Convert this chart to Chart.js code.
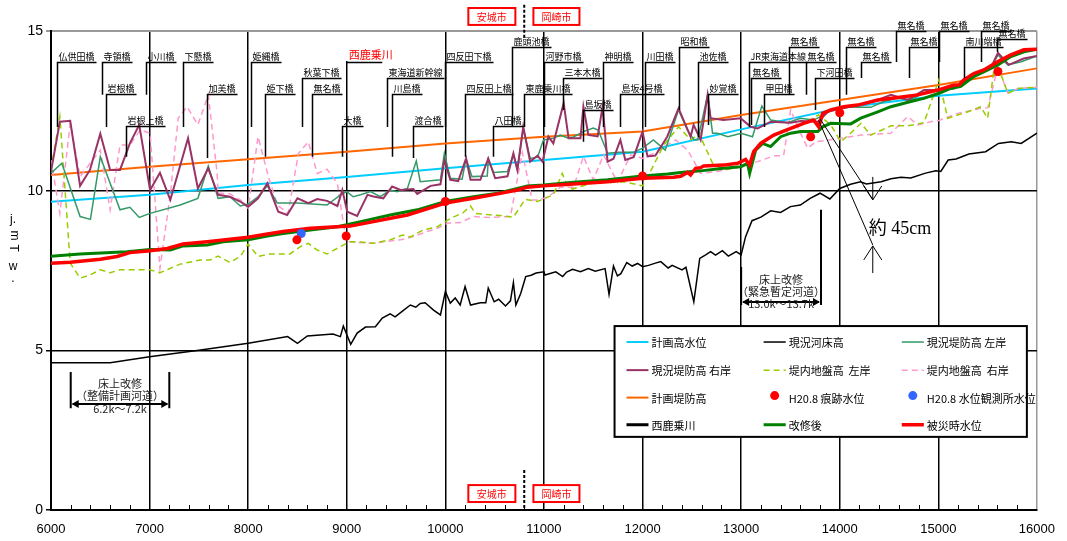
<!DOCTYPE html>
<html>
<head>
<meta charset="utf-8">
<script src="https://cdn.jsdelivr.net/npm/chart.js@4.4.1/dist/chart.umd.min.js"></script>
<style>
  body { margin: 0; background: #fff; }
  canvas { display: block; }
</style>
</head>
<body>
<canvas id="grafico" width="1067" height="541"></canvas>
<script>
const FUENTE = "'Liberation Sans', 'Noto Sans CJK JP', sans-serif";
const FUENTE_JP = "'Noto Sans CJK JP', 'Liberation Sans', sans-serif";
Chart.defaults.font.family = FUENTE;
Chart.defaults.color = '#000';

// Datos: [距離(m), 標高(T.P.m)]
const planHWL = [[6000,9.65],[7000,9.87],[8000,10.18],[9000,10.43],[10000,10.70],[11000,10.96],[12000,11.22],[13000,11.92],[14000,12.58],[15000,12.97],[16000,13.2]];

const planLevee = [[6000,10.49],[7000,10.75],[8000,10.98],[9000,11.22],[10000,11.48],[11000,11.69],[12000,11.85],[13000,12.37],[14000,12.84],[15000,13.31],[16000,13.83]];

const riverBed = [[6000,4.61],[6600,4.61],[7000,4.80],[7500,5.0],[8000,5.22],[8400,5.43],[8500,5.22],[8600,5.45],[8860,5.51],[8935,5.43],[8965,5.76],[9040,5.19],[9105,5.54],[9190,5.73],[9290,5.74],[9360,6.01],[9440,6.14],[9490,6.05],[9565,6.23],[9645,6.42],[9700,6.35],[9745,6.47],[9795,6.49],[9880,6.26],[9950,6.11],[10000,6.84],[10050,6.48],[10100,6.64],[10150,6.42],[10200,7.0],[10255,6.42],[10355,6.49],[10410,6.49],[10435,6.95],[10495,6.52],[10540,6.6],[10610,6.39],[10660,6.55],[10690,7.12],[10715,6.42],[10765,6.79],[10815,7.31],[10870,7.35],[10920,7.42],[11000,7.46],[11010,7.36],[11120,7.46],[11190,7.31],[11230,7.45],[11290,7.54],[11370,7.46],[11450,7.56],[11520,7.48],[11620,7.56],[11660,6.75],[11705,7.64],[11745,7.33],[11780,7.4],[11840,7.75],[11895,7.64],[11950,7.72],[12000,7.62],[12060,7.66],[12130,7.73],[12185,7.78],[12260,7.58],[12300,7.66],[12400,7.52],[12440,7.6],[12520,6.52],[12580,7.88],[12640,7.99],[12690,8.09],[12740,7.98],[12810,8.12],[12870,7.95],[12950,8.09],[13000,7.99],[13045,8.56],[13110,9.06],[13200,9.17],[13300,9.37],[13400,9.32],[13500,9.50],[13600,9.55],[13700,9.76],[13800,9.92],[13900,9.74],[14000,10.07],[14110,10.2],[14210,10.28],[14270,10.21],[14420,10.28],[14520,10.37],[14620,10.42],[14720,10.4],[14870,10.55],[14975,10.62],[15025,10.6],[15100,10.96],[15180,10.99],[15310,11.15],[15480,11.22],[15610,11.48],[15740,11.53],[15840,11.48],[16000,11.80]];

const leveeLeft = [[6000,10.55],[6110,10.86],[6295,9.19],[6400,9.10],[6500,11.06],[6700,9.40],[6800,9.48],[6895,9.16],[7005,9.29],[7310,9.55],[7490,9.76],[7595,10.77],[7695,9.76],[7815,9.81],[7920,9.52],[8000,9.58],[8100,9.81],[8195,10.15],[8295,9.61],[8500,9.61],[8800,9.55],[8935,9.87],[9000,9.97],[9065,9.81],[9140,9.87],[9240,9.97],[9340,9.81],[9440,10.02],[9510,9.97],[9615,10.07],[9705,10.93],[9745,10.28],[9950,10.34],[9990,11.17],[10050,10.39],[10170,10.36],[10210,11.01],[10270,10.44],[10425,10.46],[10435,10.96],[10490,10.57],[10630,10.6],[10690,11.12],[10730,10.65],[10790,11.95],[10860,11.01],[10935,11.05],[10995,11.59],[11095,11.64],[11165,11.74],[11240,11.65],[11300,11.68],[11400,11.85],[11500,11.96],[11550,11.9],[11645,11.17],[11760,11.2],[11910,11.2],[12000,11.33],[12110,11.59],[12230,11.27],[12365,12.53],[12455,11.9],[12520,11.6],[12560,11.59],[12660,13.0],[12710,11.8],[12760,11.8],[12865,11.69],[13000,11.8],[13115,11.69],[13210,12.65],[13300,12.21],[13470,12.13],[13600,12.27],[13735,12.21],[13805,12.32],[13910,12.53],[14040,12.63],[14180,12.61],[14315,12.61],[14445,12.79],[14590,12.89],[14720,12.84],[14855,13.07],[15005,13.17],[15130,13.24],[15200,13.24],[15260,13.36],[15330,13.55],[15430,13.73],[15530,13.83],[15605,14.25],[15705,13.94],[15840,14.04],[16000,14.22]];

const leveeRight = [[6000,10.6],[6090,12.16],[6195,12.19],[6295,10.15],[6395,10.65],[6500,11.78],[6600,10.65],[6700,10.65],[6800,11.48],[6895,12.06],[7005,10.02],[7105,10.56],[7210,9.71],[7390,11.64],[7490,10.07],[7595,10.70],[7695,9.87],[7815,9.81],[7920,9.66],[8000,9.50],[8100,9.76],[8195,10.23],[8305,9.34],[8395,9.24],[8500,9.76],[8610,9.61],[8700,9.74],[8800,9.68],[8905,9.52],[8955,10.02],[9005,9.34],[9105,9.21],[9210,9.87],[9270,9.82],[9370,9.76],[9460,10.13],[9545,10.02],[9675,10.05],[9715,9.9],[9850,10.15],[9950,10.2],[9990,10.96],[10050,10.34],[10130,10.3],[10210,11.01],[10255,10.34],[10355,10.34],[10435,11.01],[10505,10.39],[10630,10.45],[10690,11.17],[10730,10.65],[10790,12.0],[10860,10.91],[10935,11.1],[10985,10.91],[11045,11.69],[11095,11.48],[11200,12.74],[11250,11.64],[11370,11.64],[11400,12.63],[11450,11.75],[11545,11.7],[11595,12.63],[11645,10.91],[11705,11.0],[11775,11.59],[11825,10.96],[11910,11.05],[12000,11.85],[12050,11.07],[12130,11.1],[12250,11.69],[12365,12.58],[12487,11.69],[12518,12.06],[12589,11.59],[12660,13.0],[12690,12.27],[12820,12.21],[12995,12.27],[13096,12.0],[13167,11.95],[13300,12.16],[13500,12.13],[13605,12.18],[13780,12.16],[13880,12.47],[13980,12.55],[14185,12.68],[14385,12.84],[14520,13.0],[14690,12.84],[14855,13.15],[14995,13.15],[15155,13.2],[15260,13.4],[15400,13.67],[15530,13.83],[15605,14.32],[15715,13.94],[15865,14.14],[16000,14.22]];

const groundLeft = [[6000,10.65],[6090,12.32],[6195,7.73],[6295,7.26],[6395,7.36],[6500,7.52],[6600,7.43],[6700,7.52],[7005,7.52],[7105,7.43],[7310,7.70],[7515,7.83],[7615,7.83],[7695,7.95],[7815,7.75],[7920,7.94],[8000,8.33],[8100,7.94],[8225,8.02],[8425,8.02],[8530,8.25],[8610,8.35],[8700,8.14],[8800,8.02],[8935,8.25],[9035,8.40],[9065,8.40],[9190,8.38],[9270,8.35],[9440,8.46],[9565,8.61],[9645,8.55],[9775,8.77],[9920,8.87],[10050,9.13],[10180,9.31],[10255,9.52],[10305,9.29],[10425,9.25],[10560,9.22],[10690,9.17],[10810,9.73],[10935,9.66],[11095,9.87],[11185,10.54],[11240,10.13],[11290,10.05],[11370,10.13],[11545,10.28],[11645,10.25],[11810,10.28],[12000,10.15],[12080,10.6],[12215,11.43],[12365,12.0],[12487,11.59],[12590,11.8],[12610,11.53],[12710,10.86],[12820,10.65],[12995,10.75],[13075,10.85],[13200,11.53],[13400,11.80],[13605,12.06],[13785,12.37],[13910,12.06],[14010,11.53],[14110,11.80],[14215,12.11],[14315,11.74],[14520,12.03],[14690,12.03],[14855,12.13],[15005,13.47],[15095,12.27],[15300,12.47],[15430,12.63],[15500,12.27],[15563,13.78],[15614,13.82],[15706,13.05],[15807,13.2],[16000,13.24]];

const groundRight = [[6000,10.96],[6090,9.29],[6195,12.11],[6295,10.44],[6500,11.27],[6600,9.40],[6700,11.43],[6800,11.43],[6905,11.90],[7005,11.8],[7105,7.57],[7210,9.87],[7290,12.27],[7380,12.63],[7490,12.06],[7595,13.0],[7685,10.55],[7695,9.92],[7815,9.9],[7920,9.71],[8000,9.45],[8100,11.69],[8205,10.44],[8295,9.55],[8405,9.29],[8510,11.17],[8610,11.53],[8700,10.54],[8800,10.67],[8905,10.23],[8965,8.98],[9000,8.40],[9270,8.35],[9370,8.4],[9545,8.46],[9675,8.56],[9815,8.72],[9920,8.82],[10020,8.98],[10150,9.0],[10285,9.19],[10455,9.16],[10660,9.19],[10780,11.2],[10880,9.71],[10945,9.71],[11045,9.81],[11165,10.11],[11300,10.11],[11400,11.07],[11500,10.34],[11605,11.12],[11745,10.26],[11880,11.12],[12000,11.01],[12110,11.17],[12335,11.59],[12457,11.27],[12589,10.54],[12760,10.6],[12995,10.75],[13167,10.91],[13330,11.09],[13431,11.1],[13502,12.53],[13573,12.0],[13675,11.33],[13756,11.53],[14010,11.64],[14213,11.74],[14518,11.80],[14690,12.32],[14792,12.06],[14924,12.16],[15005,12.2],[15198,12.42],[15431,12.58],[15502,12.6],[15604,13.88],[15706,13.05],[15807,13.2],[16000,13.24]];

const afterWorks = [[6000,7.95],[6295,8.02],[6770,8.09],[7005,8.16],[7210,8.14],[7340,8.27],[7585,8.30],[7745,8.40],[8000,8.46],[8195,8.58],[8355,8.66],[8630,8.77],[8905,8.87],[9035,8.96],[9140,9.03],[9440,9.24],[9715,9.40],[10000,9.66],[10285,9.81],[10530,9.92],[10690,10.04],[10830,10.15],[10995,10.18],[11300,10.26],[11645,10.34],[12000,10.46],[12255,10.52],[12385,10.57],[12590,10.62],[12820,10.7],[12995,10.75],[13065,10.85],[13086,10.54],[13147,11.27],[13218,11.48],[13299,11.38],[13401,11.69],[13502,11.80],[13604,11.85],[13777,11.85],[13827,12.0],[13909,12.11],[14111,12.09],[14213,12.27],[14386,12.47],[14518,12.63],[14721,12.79],[14853,12.89],[15005,13.05],[15127,13.2],[15228,13.27],[15360,13.57],[15502,13.78],[15604,13.94],[15736,14.2],[15868,14.35],[16000,14.43]];

const floodLevel = [[6000,7.73],[6195,7.76],[6500,7.85],[6670,7.94],[6800,8.06],[7005,8.12],[7180,8.19],[7340,8.33],[7585,8.40],[8000,8.54],[8195,8.64],[8355,8.72],[8630,8.82],[9035,8.89],[9270,9.03],[9615,9.24],[10000,9.61],[10285,9.76],[10530,9.90],[10730,10.02],[10830,10.11],[10995,10.15],[11300,10.21],[11645,10.28],[12000,10.39],[12315,10.42],[12386,10.45],[12457,10.57],[12487,10.49],[12538,10.70],[12589,10.72],[12619,10.77],[12822,10.80],[12964,10.86],[13045,10.98],[13086,10.8],[13127,11.22],[13198,11.48],[13330,11.74],[13502,11.95],[13634,12.11],[13736,12.21],[13787,12.0],[13827,12.42],[13909,12.53],[14040,12.63],[14183,12.68],[14386,12.84],[14589,12.92],[14792,13.0],[14995,13.15],[15157,13.31],[15208,13.31],[15259,13.47],[15360,13.67],[15462,13.78],[15604,14.04],[15736,14.25],[15868,14.41],[16000,14.43]];

const traceMarks = [[8494,8.46],[8994,8.58],[10000,9.66],[12000,10.46],[13705,11.69],[14000,12.44],[15604,13.73]];
const gaugeMarks = [[8538,8.66]];

const xTicks = [6000, 7000, 8000, 9000, 10000, 11000, 12000, 13000, 14000, 15000, 16000];
const yTicks = [0, 5, 10, 15];

// 橋梁名: [名称, 距離, 引出線高さ, 下端]
const bridges = [
  ['仏供田橋', 6061, 14.03, 11.99], ['寺領橋', 6518, 14.03, 13.0], ['岩根橋', 6558, 13.03, 11.99],
  ['岩根上橋', 6761, 12.03, 11.06], ['小川橋', 6964, 14.03, 13.0], ['下懸橋', 7340, 14.03, 11.99],
  ['加美橋', 7584, 13.03, 11.02], ['姫縄橋', 8030, 14.03, 11.99], ['姫下橋', 8173, 13.03, 11.06],
  ['秋葉下橋', 8548, 13.53, 11.99], ['無名橋', 8650, 13.03, 11.06], ['大橋', 8954, 12.03, 11.06],
  ['東海道新幹線', 9411, 13.53, 11.99], ['川島橋', 9462, 13.03, 11.06], ['渡合橋', 9675, 12.03, 11.02],
  ['四反田下橋', 10000, 14.03, 11.99], ['四反田上橋', 10203, 13.03, 11.06], ['八田橋', 10487, 12.03, 11.06],
  ['鹿頭池橋', 10680, 14.50, 11.99], ['河野市橋', 11005, 14.03, 11.99], ['東鹿乗川橋', 10802, 13.03, 11.99],
  ['三本木橋', 11198, 13.53, 12.53], ['神明橋', 11594, 14.03, 11.99], ['島坂橋', 11401, 12.53, 11.53],
  ['島坂4号橋', 11776, 13.03, 11.99], ['川田橋', 12020, 14.03, 11.99], ['昭和橋', 12365, 14.50, 12.53],
  ['池佐橋', 12558, 14.03, 11.68], ['妙覚橋', 12660, 13.03, 12.06], ['JR東海道本線', 13076, 14.03, 11.99],
  ['無名橋', 13096, 13.53, 12.06], ['甲田橋', 13228, 13.03, 11.99], ['無名橋', 13482, 14.50, 13.0],
  ['無名橋', 13654, 14.03, 13.0], ['下河田橋', 13746, 13.53, 12.53], ['無名橋', 14061, 14.50, 13.0],
  ['無名橋', 14213, 14.03, 13.53], ['無名橋', 14568, 15.0, 14.03], ['無名橋', 14700, 14.50, 13.53],
  ['無名橋', 15005, 15.0, 14.03], ['南川端橋', 15258, 14.50, 13.53], ['無名橋', 15431, 15.0, 14.03],
  ['無名橋', 15593, 14.75, 14.34]
];

const legendOrder = ['計画高水位', '現況河床高', '現況堤防高 左岸', '現況堤防高 右岸', '堤内地盤高  左岸', '堤内地盤高  右岸',
  '計画堤防高', 'H20.8 痕跡水位', 'H20.8 水位観測所水位', '西鹿乗川', '改修後', '被災時水位'];

const aPuntos = arr => arr.map(p => ({ x: p[0], y: p[1] }));

function linea(label, datos, color, ancho, orden, trazo) {
  return {
    label, data: aPuntos(datos), borderColor: color, backgroundColor: color,
    borderWidth: ancho, borderDash: trazo || [], pointRadius: 0, order: orden, tension: 0, fill: false
  };
}

function puntos(label, datos, color, orden) {
  return {
    label, data: aPuntos(datos), showLine: false, borderColor: color, backgroundColor: color,
    pointRadius: 4.5, pointBorderWidth: 0, pointBackgroundColor: color, order: orden
  };
}

// Dibujo de etiquetas, cuadros y leyenda
const decoraciones = {
  id: 'decoraciones',
  beforeDatasetsDraw(chart) {
    const { ctx, chartArea: a, scales: { x, y } } = chart;
    ctx.save();
    // marcas menores cada 200 m
    ctx.strokeStyle = '#000';
    ctx.lineWidth = 1;
    for (let v = 6200; v < 16000; v += 200) {
      if (v % 1000 === 0) continue;
      const px = Math.round(x.getPixelForValue(v)) + 0.5;
      ctx.beginPath(); ctx.moveTo(px, a.bottom); ctx.lineTo(px, a.bottom - 5); ctx.stroke();
    }
    // tapa la línea de 9000 encima de la etiqueta 西鹿乗川
    const x9 = x.getPixelForValue(9000);
    ctx.fillStyle = '#fff';
    ctx.fillRect(x9 - 2, a.top - 3, 4, y.getPixelForValue(14.03) - a.top + 2);
    ctx.strokeStyle = '#999999';
    ctx.lineWidth = 2;
    ctx.beginPath(); ctx.moveTo(x9 - 3, a.top); ctx.lineTo(x9 + 3, a.top); ctx.stroke();
    ctx.restore();
  },
  afterDatasetsDraw(chart) {
    const { ctx, chartArea: a, scales: { x, y } } = chart;
    const X = v => x.getPixelForValue(v);
    const Y = v => y.getPixelForValue(v);
    ctx.save();

    // nombres de puentes
    ctx.font = '9px ' + FUENTE_JP;
    ctx.textBaseline = 'bottom';
    ctx.textAlign = 'left';
    ctx.strokeStyle = '#000';
    ctx.fillStyle = '#000';
    ctx.lineWidth = 1.5;
    bridges.forEach(([nombre, d, nivel, fondo]) => {
      const px = Math.round(X(d)) + 0.5, py = Math.round(Y(nivel)) + 0.5;
      const w = ctx.measureText(nombre).width;
      ctx.beginPath();
      ctx.moveTo(px + w + 3, py); ctx.lineTo(px, py); ctx.lineTo(px, Y(fondo));
      ctx.stroke();
      ctx.fillText(nombre, px + 1, py - 1);
    });

    // 西鹿乗川
    ctx.beginPath();
    ctx.moveTo(X(9000), Y(14.03) + 0.5); ctx.lineTo(X(9360), Y(14.03) + 0.5);
    ctx.stroke();
    ctx.font = '11px ' + FUENTE_JP;
    ctx.fillStyle = '#ff0000';
    ctx.fillText('西鹿乗川', X(9000) + 2, Y(14.03) - 2);

    // límite municipal
    const cuadro = (t, d1, d2, y1, y2) => {
      ctx.strokeStyle = '#ff0000'; ctx.lineWidth = 2;
      ctx.fillStyle = '#fff';
      ctx.fillRect(X(d1), Y(y1), X(d2) - X(d1), Y(y2) - Y(y1));
      ctx.strokeRect(X(d1), Y(y1), X(d2) - X(d1), Y(y2) - Y(y1));
      ctx.fillStyle = '#ff0000';
      ctx.font = '10px ' + FUENTE_JP;
      ctx.textAlign = 'center'; ctx.textBaseline = 'middle';
      ctx.fillText(t, (X(d1) + X(d2)) / 2, (Y(y1) + Y(y2)) / 2 + 0.5);
    };
    cuadro('安城市', 10233, 10710, 15.72, 15.19);
    cuadro('岡崎市', 10893, 11360, 15.72, 15.19);
    cuadro('安城市', 10233, 10710, 0.78, 0.25);
    cuadro('岡崎市', 10893, 11360, 0.78, 0.25);
    ctx.strokeStyle = '#000'; ctx.lineWidth = 2; ctx.setLineDash([3, 2]);
    ctx.beginPath();
    ctx.moveTo(X(10800), Y(15.82)); ctx.lineTo(X(10800), Y(14.78));
    ctx.moveTo(X(10800), Y(1.25)); ctx.lineTo(X(10800), Y(0));
    ctx.stroke();
    ctx.setLineDash([]);

    // tramos de 床上改修
    const tramo = (d1, d2, yTop1, yTop2, yBot, yArrow, textos, yTextos) => {
      ctx.strokeStyle = '#000'; ctx.fillStyle = '#000'; ctx.lineWidth = 2;
      ctx.beginPath();
      ctx.moveTo(X(d1), Y(yTop1)); ctx.lineTo(X(d1), Y(yBot));
      ctx.moveTo(X(d2), Y(yTop2)); ctx.lineTo(X(d2), Y(yBot));
      const ya = Y(yArrow);
      ctx.moveTo(X(d1) + 2, ya); ctx.lineTo(X(d2) - 2, ya);
      ctx.stroke();
      ctx.beginPath();
      ctx.moveTo(X(d1) + 1, ya); ctx.lineTo(X(d1) + 8, ya - 4); ctx.lineTo(X(d1) + 8, ya + 4); ctx.closePath();
      ctx.moveTo(X(d2) - 1, ya); ctx.lineTo(X(d2) - 8, ya - 4); ctx.lineTo(X(d2) - 8, ya + 4); ctx.closePath();
      ctx.fill();
      ctx.fillStyle = '#222';
      ctx.font = '11px ' + FUENTE_JP;
      ctx.textAlign = 'center'; ctx.textBaseline = 'middle';
      const cx = (X(d1) + X(d2)) / 2;
      textos.forEach((t, i) => ctx.fillText(t, cx, Y(yTextos[i])));
    };
    tramo(6200, 7200, 4.32, 4.32, 3.19, 3.32, ['床上改修', '（整備計画河道）', '6.2k～7.2k'], [3.95, 3.57, 3.17]);
    tramo(13000, 13810, 7.61, 9.40, 6.42, 6.51, ['床上改修', '（緊急暫定河道）', '13.0k～13.7k'], [7.2, 6.83, 6.46]);

    // 約45cm
    ctx.strokeStyle = '#000'; ctx.lineWidth = 1;
    ctx.beginPath();
    ctx.moveTo(X(13787), Y(12.2)); ctx.lineTo(X(14335), Y(8.3));
    ctx.moveTo(X(13800), Y(12.25)); ctx.lineTo(X(14330), Y(9.75));
    const ax = X(14335);
    ctx.moveTo(ax, Y(10.43)); ctx.lineTo(ax, Y(9.71));
    ctx.moveTo(ax - 9, Y(9.71) - 14); ctx.lineTo(ax, Y(9.71)); ctx.lineTo(ax + 9, Y(9.71) - 14);
    ctx.moveTo(ax, Y(7.42)); ctx.lineTo(ax, Y(8.27));
    ctx.moveTo(ax - 9, Y(8.27) + 14); ctx.lineTo(ax, Y(8.27)); ctx.lineTo(ax + 9, Y(8.27) + 14);
    ctx.stroke();
    ctx.fillStyle = '#000';
    ctx.font = "18px 'Liberation Serif', 'Noto Sans CJK JP', serif";
    ctx.textAlign = 'left'; ctx.textBaseline = 'middle';
    ctx.fillText('約 45cm', X(14294), Y(8.80));

    // leyenda
    const l = X(11716), r = X(15898), t = Y(5.76), b = Y(2.29);
    ctx.fillStyle = '#fff';
    ctx.fillRect(l, t, r - l, b - t);
    ctx.strokeStyle = '#000'; ctx.lineWidth = 2;
    ctx.strokeRect(l, t, r - l, b - t);
    const filas = [5.26, 4.38, 3.52, 2.67];
    const cols = [[11837, 12060, 12091], [13228, 13452, 13482], [14629, 14853, 14883]];
    ctx.font = '11px ' + FUENTE_JP;
    ctx.textBaseline = 'middle'; ctx.textAlign = 'left';
    legendOrder.forEach((nombre, i) => {
      const ds = chart.data.datasets.find(d => d.label === nombre);
      const c = cols[i % 3], yy = Y(filas[Math.floor(i / 3)]);
      if (ds.showLine === false) {
        ctx.fillStyle = ds.backgroundColor;
        ctx.beginPath(); ctx.arc((X(c[0]) + X(c[1])) / 2, yy - 2, 4.5, 0, Math.PI * 2); ctx.fill();
      } else {
        ctx.strokeStyle = ds.borderColor; ctx.lineWidth = ds.borderWidth;
        ctx.setLineDash(ds.borderDash);
        ctx.beginPath(); ctx.moveTo(X(c[0]), yy); ctx.lineTo(X(c[1]), yy); ctx.stroke();
        ctx.setLineDash([]);
      }
      ctx.fillStyle = '#000';
      ctx.fillText(nombre, X(c[2]), yy + 1);
    });

    // título del eje Y (texto original dañado)
    ctx.font = '12px ' + FUENTE;
    ctx.textAlign = 'center'; ctx.textBaseline = 'middle';
    const tx = a.left - 38;
    ctx.fillText('j.', tx, Y(9.1));
    ctx.save(); ctx.translate(tx + 1, Y(8.6)); ctx.rotate(Math.PI / 2); ctx.fillText('m', 0, 0); ctx.restore();
    ctx.save(); ctx.translate(tx, Y(8.2)); ctx.rotate(Math.PI / 2); ctx.fillText('T', 0, 0); ctx.restore();
    ctx.fillText('w', tx, Y(7.62));
    ctx.fillText('.', tx, Y(7.25));

    ctx.restore();
  }
};

const ctx = document.getElementById('grafico').getContext('2d');

const grafico = new Chart(ctx, {
  type: 'line',
  data: {
    datasets: [
      puntos('H20.8 痕跡水位', traceMarks, '#ff0000', 0),
      puntos('H20.8 水位観測所水位', gaugeMarks, '#3366ff', 0),
      linea('被災時水位', floodLevel, '#ff0000', 3.5, 1),
      linea('改修後', afterWorks, '#008000', 3, 2),
      linea('現況堤防高 右岸', leveeRight, '#993366', 2, 3),
      linea('現況堤防高 左岸', leveeLeft, '#339966', 1.5, 4),
      linea('堤内地盤高  左岸', groundLeft, '#99cc00', 1.5, 5, [6, 4]),
      linea('堤内地盤高  右岸', groundRight, '#ff99cc', 1.5, 6, [6, 4]),
      linea('計画高水位', planHWL, '#00ccff', 2, 7),
      linea('計画堤防高', planLevee, '#ff6600', 2, 8),
      linea('現況河床高', riverBed, '#000000', 1.5, 9),
      linea('西鹿乗川', [], '#000000', 3, 10)
    ]
  },
  options: {
    responsive: false,
    animation: false,
    layout: { padding: { top: 31, right: 30, left: 0, bottom: 0 } },
    plugins: {
      legend: { display: false },
      tooltip: { enabled: false }
    },
    scales: {
      x: {
        type: 'linear', min: 6000, max: 16000,
        afterBuildTicks: s => { s.ticks = xTicks.map(v => ({ value: v })); },
        afterFit: s => { s.height = 31; },
        ticks: { padding: 12, maxRotation: 0, font: { size: 13 }, color: '#000', callback: v => String(v) },
        grid: {
          drawTicks: false,
          color: c => c.tick && c.tick.value === 16000 ? '#999999' : '#000000',
          lineWidth: 1.5
        },
        border: { color: '#000', width: 2 }
      },
      y: {
        min: 0, max: 15,
        afterBuildTicks: s => { s.ticks = yTicks.map(v => ({ value: v })); },
        afterFit: s => { s.width = 51; },
        ticks: { padding: 3, font: { size: 14 }, color: '#000' },
        grid: {
          drawTicks: true, tickLength: 5,
          color: c => c.tick && c.tick.value === 15 ? '#999999' : '#000000',
          lineWidth: c => c.tick && c.tick.value === 15 ? 2 : 1.5
        },
        border: { color: '#000', width: 2 }
      }
    }
  },
  plugins: [decoraciones]
});
</script>
</body>
</html>
